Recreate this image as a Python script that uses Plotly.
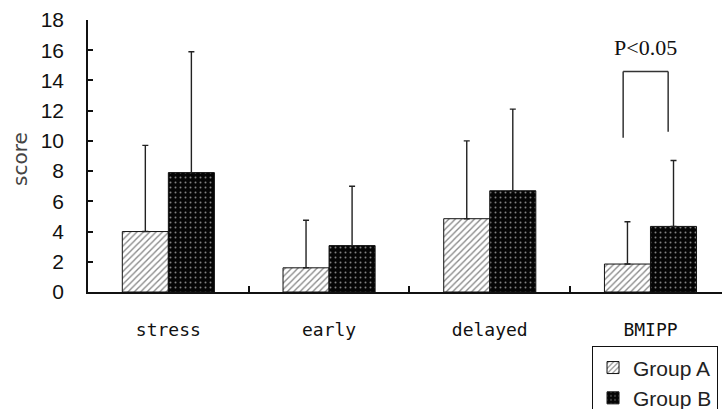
import plotly.graph_objects as go

# ---- data ----
categories = ["stress", "early", "delayed", "BMIPP"]
group_a_mean = [4.0, 1.6, 4.85, 1.85]
group_a_upper = [9.7, 4.75, 10.0, 4.65]   # top of error bar
group_b_mean = [7.9, 3.07, 6.7, 4.34]
group_b_upper = [15.9, 7.0, 12.1, 8.7]
y_tick_values = [0, 2, 4, 6, 8, 10, 12, 14, 16, 18]

# significance bracket over BMIPP
bracket_category_index = 3
bracket_offsets = [-0.17, 0.11]        # left / right, in category units
bracket_left_bottom = 10.2
bracket_right_bottom = 10.6
bracket_top = 14.6
p_label = "P<0.05"
p_label_y = 16.2

group_a_err = [u - m for u, m in zip(group_a_upper, group_a_mean)]
group_b_err = [u - m for u, m in zip(group_b_upper, group_b_mean)]

err_style = dict(type="data", symmetric=False, arrayminus=[0] * 4,
                 color="#222222", thickness=1.4, width=3)

fig = go.Figure()
fig.add_trace(go.Bar(
    name="Group A", x=categories, y=group_a_mean,
    marker=dict(color="white",
                line=dict(color="#111111", width=1),
                pattern=dict(shape="/", fgcolor="#111111", bgcolor="white",
                             size=4.5, solidity=0.3)),
    error_y=dict(array=group_a_err, **err_style),
))
fig.add_trace(go.Bar(
    name="Group B", x=categories, y=group_b_mean,
    marker=dict(color="black",
                line=dict(color="#111111", width=1),
                pattern=dict(shape=".", fgcolor="white", bgcolor="#050505",
                             size=5, solidity=0.12)),
    error_y=dict(array=group_b_err, **err_style),
))

xl = bracket_category_index + bracket_offsets[0]
xr = bracket_category_index + bracket_offsets[1]
line_style = dict(color="#333333", width=1.5)
fig.add_shape(type="line", xref="x", yref="y", x0=xl, x1=xl,
              y0=bracket_left_bottom, y1=bracket_top, line=line_style)
fig.add_shape(type="line", xref="x", yref="y", x0=xl, x1=xr,
              y0=bracket_top, y1=bracket_top, line=line_style)
fig.add_shape(type="line", xref="x", yref="y", x0=xr, x1=xr,
              y0=bracket_right_bottom, y1=bracket_top, line=line_style)

fig.add_annotation(x=(xl + xr) / 2, y=p_label_y, xref="x", yref="y",
                   text=p_label, showarrow=False, xanchor="center",
                   font=dict(family="Liberation Serif", size=22, color="#111111"))

fig.add_annotation(x=-0.107, y=0.49, xref="paper", yref="paper",
                   xanchor="center", yanchor="middle",
                   text="score", textangle=-90, showarrow=False,
                   font=dict(family="DejaVu Sans", size=20, color="#444444"))

fig.update_layout(
    width=722, height=409,
    margin=dict(l=88, r=0, t=20, b=117, autoexpand=False),
    paper_bgcolor="white", plot_bgcolor="white",
    barmode="group", bargap=0.427, bargroupgap=0,
    showlegend=True,
    legend=dict(x=0.795, y=-0.2, xanchor="left", yanchor="top",
                bordercolor="#111111", borderwidth=1, bgcolor="white",
                font=dict(family="Liberation Sans", size=21, color="#222222"),
                traceorder="normal", itemwidth=30),
    xaxis=dict(range=[-0.5, 3.445], type="category",
               showline=True, linecolor="#111111", linewidth=1.5,
               ticks="inside", tickson="boundaries", ticklen=6,
               tickcolor="#111111", tickwidth=1.5,
               showgrid=False, zeroline=False,
               ticklabelstandoff=21,
               tickfont=dict(family="DejaVu Sans Mono", size=18, color="#111111")),
    yaxis=dict(range=[0, 18], tickvals=y_tick_values,
               showline=True, linecolor="#111111", linewidth=1.5,
               ticks="inside", ticklen=5, tickcolor="#111111", tickwidth=1.5,
               showgrid=False, zeroline=False,
               ticklabelstandoff=18,
               tickfont=dict(family="Liberation Sans", size=21, color="#111111")),
)

fig.write_html("out.html")
